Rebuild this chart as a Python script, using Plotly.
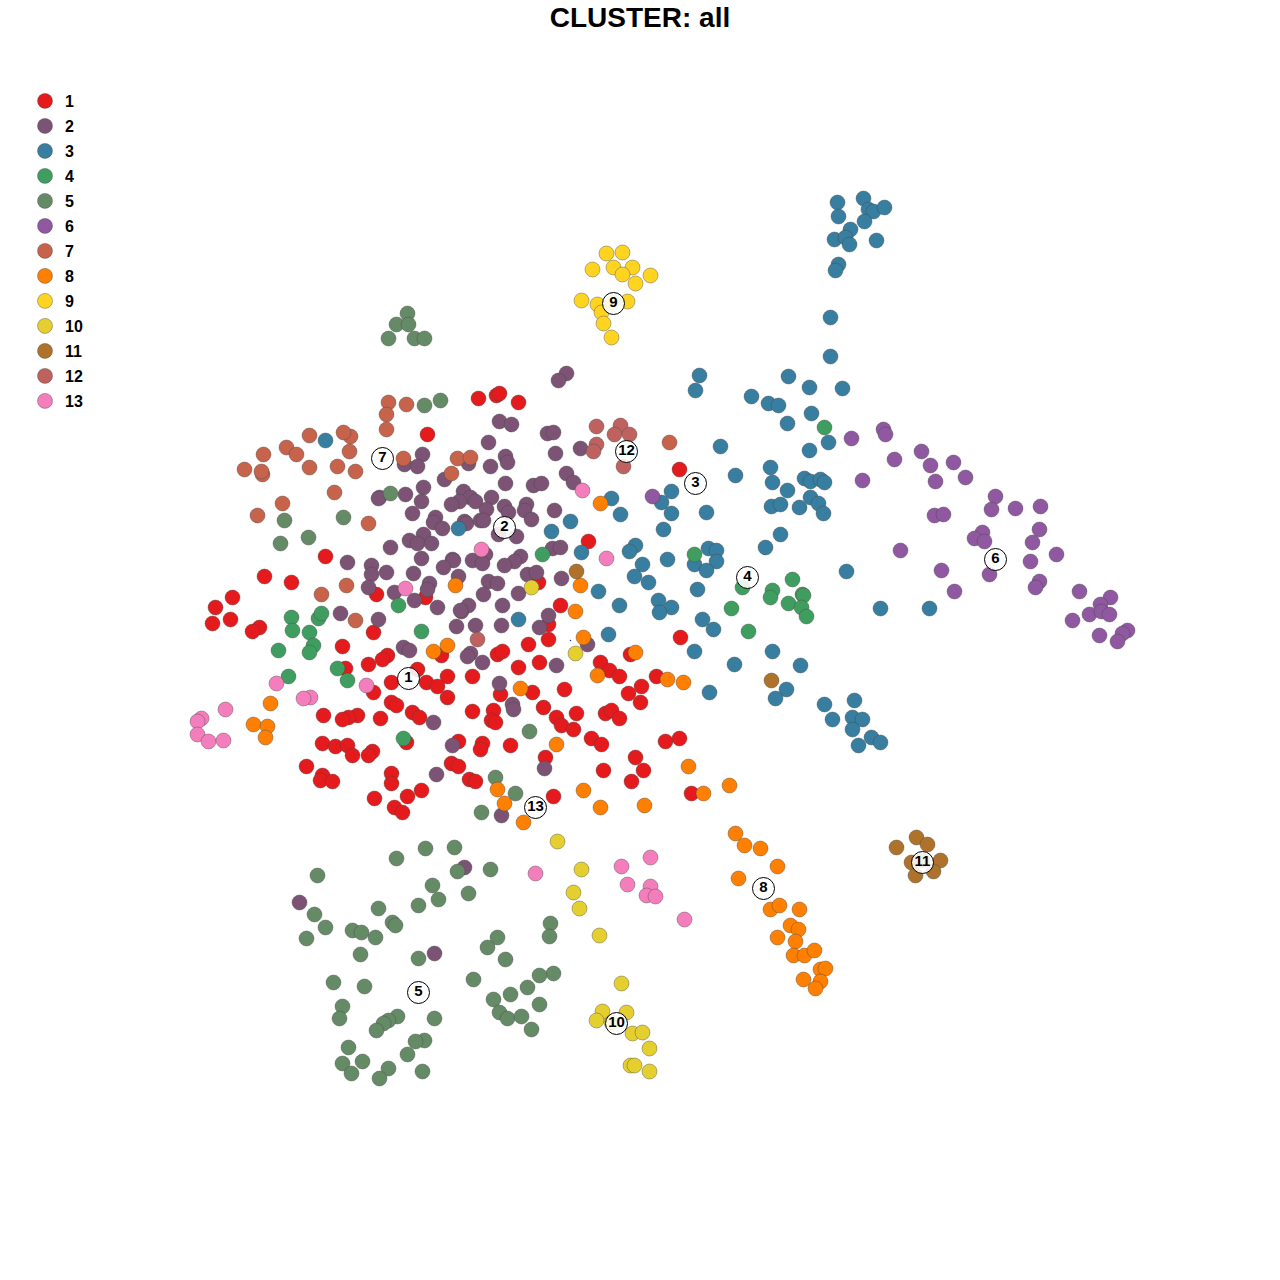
import plotly.graph_objects as go

c1 = [(215,607),(232,597),(212,623),(230,619),(259,627),(252,631),(373,632),(342,646),(387,655),(382,659),(368,664),(345,668),(417,669),(391,682),(426,682),(447,676),(437,686),(472,676),(447,697),(373,692),(391,702),(396,705),(472,711),(412,712),(419,717),(323,715),(357,715),(348,717),(342,719),(380,718),(322,743),(335,746),(347,745),(352,755),(372,751),(368,755),(406,742),(458,741),(482,743),(480,749),(510,745),(306,766),(322,775),(320,780),(332,781),(391,773),(391,783),(451,763),(458,766),(469,779),(475,781),(421,790),(407,796),(374,798),(394,807),(402,812),(560,605),(548,624),(548,639),(528,644),(497,654),(502,651),(441,655),(518,667),(539,662),(500,694),(532,692),(564,689),(493,710),(491,720),(495,722),(543,707),(556,717),(561,725),(576,713),(573,729),(591,738),(601,744),(605,713),(611,710),(619,718),(628,693),(641,686),(640,702),(600,662),(609,670),(619,676),(630,654),(680,637),(656,676),(665,741),(679,738),(635,757),(643,770),(603,770),(631,781),(691,793),(545,757),(553,796),(478,398),(496,395),(499,393),(518,402),(679,469),(588,541),(538,582),(427,434),(325,556),(264,576),(291,582),(376,594),(425,597)]
c2 = [(422,454),(404,464),(417,466),(444,479),(468,463),(379,497),(378,498),(405,494),(423,487),(421,501),(463,491),(470,497),(459,501),(451,504),(475,501),(412,513),(435,517),(433,522),(442,528),(464,521),(466,523),(480,520),(390,547),(409,540),(423,534),(417,543),(431,543),(421,558),(452,559),(453,560),(443,567),(472,560),(371,565),(371,574),(386,572),(413,573),(458,576),(347,562),(368,587),(394,592),(429,583),(427,589),(414,600),(437,607),(461,611),(468,605),(340,613),(378,619),(566,373),(558,380),(499,421),(511,424),(488,442),(547,433),(553,432),(555,453),(580,448),(505,456),(507,462),(490,466),(505,483),(533,485),(541,483),(566,473),(573,482),(491,497),(486,509),(504,506),(508,512),(526,504),(524,510),(531,519),(554,510),(483,520),(498,534),(516,536),(552,548),(560,547),(485,554),(482,563),(520,556),(514,561),(504,565),(488,581),(497,583),(527,574),(536,572),(561,578),(483,594),(518,593),(502,605),(460,610),(548,615),(539,627),(587,644),(456,626),(475,625),(501,625),(470,653),(467,656),(482,662),(556,665),(499,683),(512,704),(513,709),(452,745),(544,768),(501,815),(436,774),(433,722),(403,647),(409,650),(299,902),(464,867),(434,953)]
c3 = [(863,198),(837,202),(868,209),(873,211),(884,207),(838,216),(864,221),(850,229),(834,239),(845,237),(849,244),(876,240),(838,264),(835,270),(830,317),(830,356),(699,375),(695,390),(788,376),(809,387),(842,388),(751,396),(768,403),(778,405),(811,413),(787,423),(828,442),(809,450),(720,446),(735,475),(770,467),(772,482),(787,490),(804,478),(810,481),(820,479),(824,482),(810,497),(771,506),(780,504),(799,507),(818,503),(823,513),(780,534),(765,547),(846,571),(880,608),(929,608),(325,440),(458,528),(671,491),(661,502),(671,513),(706,512),(611,498),(620,514),(663,529),(570,521),(551,531),(581,552),(635,545),(629,551),(642,564),(667,559),(708,548),(716,550),(716,561),(694,564),(706,570),(634,576),(648,582),(598,591),(697,589),(619,605),(658,600),(671,607),(659,612),(518,619),(702,619),(608,634),(713,629),(694,651),(734,664),(709,692),(772,651),(800,665),(786,689),(775,698),(824,704),(854,700),(832,719),(852,717),(862,719),(852,729),(871,737),(880,742),(858,745)]
c4 = [(824,427),(694,554),(742,587),(772,590),(792,579),(770,597),(788,603),(802,594),(803,595),(801,607),(806,616),(731,608),(748,631),(542,554),(398,605),(421,631),(291,617),(292,630),(309,632),(318,618),(321,613),(313,645),(309,652),(278,650),(337,668),(347,680),(288,676),(403,738)]
c5 = [(407,313),(396,324),(408,324),(388,338),(414,338),(424,338),(424,405),(440,400),(390,493),(284,520),(343,517),(308,537),(280,543),(529,731),(495,777),(515,793),(481,812),(396,858),(425,848),(454,847),(457,871),(490,869),(317,875),(432,885),(468,893),(438,899),(418,905),(378,908),(314,914),(392,922),(395,925),(325,927),(352,930),(361,932),(375,937),(306,938),(550,923),(549,936),(497,937),(487,947),(360,954),(418,958),(505,959),(553,973),(539,975),(473,979),(333,982),(364,986),(527,987),(510,994),(493,999),(539,1004),(342,1006),(339,1018),(499,1012),(507,1018),(521,1016),(531,1029),(434,1018),(397,1016),(388,1020),(383,1023),(376,1030),(424,1040),(415,1041),(348,1047),(407,1054),(342,1063),(362,1061),(388,1068),(351,1073),(379,1078),(422,1071)]
c6 = [(851,438),(883,429),(885,434),(921,451),(894,459),(930,465),(953,462),(965,477),(935,481),(862,480),(995,496),(991,509),(1015,508),(1040,506),(934,515),(943,514),(1039,529),(982,532),(974,538),(984,541),(1032,542),(900,550),(1056,554),(1030,561),(941,570),(989,574),(1039,581),(1035,587),(954,591),(1079,591),(1110,597),(1100,604),(1089,614),(1101,611),(1109,614),(1072,620),(1127,630),(1122,633),(1099,635),(1117,641),(652,496)]
c7 = [(388,402),(406,404),(386,414),(386,429),(350,436),(343,432),(309,435),(286,447),(296,454),(263,454),(349,451),(244,469),(262,474),(261,471),(309,467),(337,466),(355,471),(403,458),(457,458),(470,457),(451,473),(334,492),(282,503),(257,515),(368,523),(321,594),(346,585),(355,620),(669,442)]
c8 = [(600,503),(455,585),(580,585),(575,611),(583,637),(433,651),(447,645),(635,652),(597,675),(667,679),(683,682),(520,688),(270,703),(253,724),(267,726),(265,737),(556,744),(688,766),(729,785),(703,793),(583,790),(497,789),(504,803),(523,822),(600,807),(644,805),(735,833),(744,845),(760,848),(777,866),(738,878),(770,909),(779,905),(799,909),(790,925),(798,929),(777,937),(795,941),(793,955),(804,955),(814,950),(820,969),(825,968),(820,981),(803,979),(815,988)]
c9 = [(606,253),(622,252),(613,267),(632,267),(592,269),(622,274),(650,275),(635,283),(581,300),(597,304),(612,302),(627,301),(601,312),(603,323),(611,337)]
c10 = [(531,587),(575,653),(557,841),(581,869),(573,892),(579,908),(599,935),(621,983),(602,1011),(626,1012),(596,1020),(611,1022),(632,1033),(642,1032),(649,1048),(630,1065),(634,1065),(649,1071)]
c11 = [(576,571),(771,680),(916,837),(927,844),(896,847),(911,862),(922,860),(940,860),(933,871),(915,875)]
c12 = [(596,426),(620,425),(614,434),(629,434),(596,444),(593,451),(623,466),(477,639)]
c13 = [(582,490),(606,558),(481,549),(405,588),(366,685),(276,683),(310,697),(303,698),(225,709),(201,718),(197,721),(197,734),(208,741),(223,740),(535,873),(621,866),(650,857),(627,884),(650,886),(646,895),(655,896),(684,919)]

clusters = [c1, c2, c3, c4, c5, c6, c7, c8, c9, c10, c11, c12, c13]
names = [str(i) for i in range(1, 14)]
colors = ["#E41A1C","#7C5375","#377EA0","#3F9E5F","#658B66","#8F58A0","#C7634B","#FF7F00","#FFD421","#E5CF2E","#AE722A","#BF625F","#F47DBC"]
label_x = [408,504,695,747,418,995,382,763,613,616,922,626,535]
label_y = [678,527,483,577,992,559,458,888,303,1023,862,451,807]
stray_x = [570]
stray_y = [640]

FONT = "Liberation Sans, Arial, sans-serif"
fig = go.Figure()
for pts, name, col in zip(clusters, names, colors):
    fig.add_trace(go.Scatter(
        x=[p[0] for p in pts], y=[p[1] for p in pts], mode="markers", name=name,
        legendgroup=name,
        marker=dict(size=15, color=col, line=dict(color="rgba(70,70,70,0.5)", width=0.8)),
        hoverinfo="skip"))
fig.add_trace(go.Scatter(x=stray_x, y=stray_y, mode="markers", showlegend=False,
                         marker=dict(size=1.5, color="#2030d0"), hoverinfo="skip"))
fig.add_trace(go.Scatter(
    x=label_x, y=label_y, mode="markers+text", text=names, textposition="middle center",
    textfont=dict(family=FONT, size=15, color="black", weight="bold"), showlegend=False,
    marker=dict(size=22, color="rgba(255,255,255,0.88)", line=dict(color="black", width=1)),
    hoverinfo="skip"))

fig.update_layout(
    width=1280, height=1280, margin=dict(l=0, r=0, t=0, b=0),
    paper_bgcolor="white", plot_bgcolor="white",
    xaxis=dict(range=[-0.5, 1279.5], visible=False, fixedrange=True),
    yaxis=dict(range=[1279.5, -0.5], visible=False, fixedrange=True),
    title=dict(text="CLUSTER: all", x=0.5, xanchor="center", y=1-17/1280, yanchor="middle",
               font=dict(family=FONT, size=28, color="black", weight="bold")),
    legend=dict(x=25/1280, xanchor="left", y=1-84/1280, yanchor="top",
                font=dict(family=FONT, size=16, color="black", weight="bold"),
                tracegroupgap=1.2, itemwidth=30, bgcolor="rgba(0,0,0,0)",
                traceorder="grouped"),
    showlegend=True,
)
fig.write_html("out.html", config={"displayModeBar": False},
               post_script="document.body.style.margin='0';document.body.style.overflow='hidden';")
